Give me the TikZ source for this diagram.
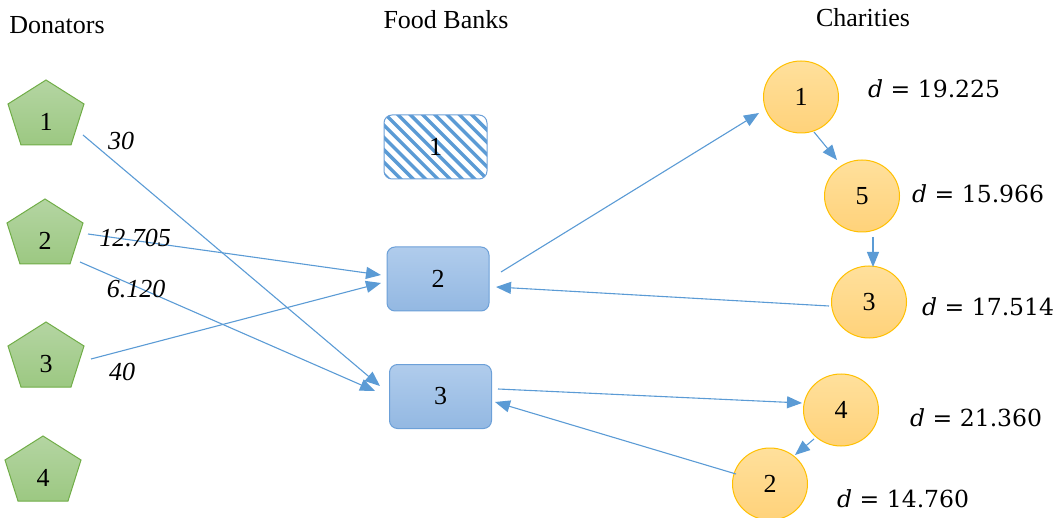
\documentclass[tikz,border=0pt]{standalone}
\usepackage{fontspec}
\setmainfont{Liberation Serif}
\newfontfamily\distfont{DejaVu Serif}
\usetikzlibrary{arrows.meta,calc,shapes.geometric}

\definecolor{flowblue}{RGB}{91,155,213}
\definecolor{boxtop}{RGB}{176,204,236}
\definecolor{boxbot}{RGB}{147,184,226}
\definecolor{boxline}{RGB}{108,160,216}
\definecolor{pentop}{RGB}{180,213,162}
\definecolor{penbot}{RGB}{156,200,130}
\definecolor{penline}{RGB}{112,173,71}
\definecolor{chartop}{RGB}{255,224,156}
\definecolor{charbot}{RGB}{255,210,122}
\definecolor{charline}{RGB}{255,192,0}

\tikzset{
  txt/.style={font=\fontsize{26}{30}\selectfont, inner sep=0pt},
  title/.style={txt, anchor=center},
  weight/.style={txt, font=\fontsize{26}{30}\selectfont\itshape},
  dist/.style={inner sep=0pt, font=\fontsize{23.5}{28}\selectfont\distfont, anchor=west},
  flow/.style={draw=flowblue, line width=1.1pt,
    -{Triangle[length=15pt,width=12pt]}},
  donorshape/.style={draw=penline, line width=1pt, top color=pentop, bottom color=penbot},
  donorlabel/.style={txt},
  bank/.style={txt, rectangle, rounded corners=8pt, draw=boxline, line width=1pt,
    minimum width=102pt, minimum height=64pt, top color=boxtop, bottom color=boxbot},
  hatchbank/.style={txt, rectangle, rounded corners=8pt, draw=boxline, line width=1pt,
    minimum width=103pt, minimum height=64pt, fill=white,
    path picture={
      \foreach \k in {-7,...,9}
        \draw[flowblue, line width=3.4pt]
          ($(path picture bounding box.north west)+(\k*12.3,-2)$) -- ++(80,80);
    }},
  charity/.style={txt, ellipse, draw=charline, line width=1pt,
    minimum width=75pt, minimum height=72pt, top color=chartop, bottom color=charbot},
}

\begin{document}
\begin{tikzpicture}[x=1pt, y=-1pt]
\useasboundingbox (0,0) rectangle (1057,518);

% column headings
\node[title] (hdon) at (57,25) {Donators};
\node[title] (hfb) at (446,20) {Food Banks};
\node[title] (hch) at (863,18) {Charities};

% donators: pentagons drawn from the top vertex
\foreach \n/\x/\y in {1/46/80, 2/45/199, 3/46/322, 4/43/436} {
  \path[donorshape] (\x,\y) -- ++(38,24) -- ++(-13,41) -- ++(-50,0) -- ++(-13,-41) -- cycle;
  \node[donorlabel] (d\n) at (\x,\y+42) {\n};
}

% food banks
\node[hatchbank] (b1) at (435.5,147) {1};
\node[bank] (b2) at (438,279) {2};
\node[bank] (b3) at (440.5,396.5) {3};

% charities
\node[charity] (c1) at (801,97) {1};
\node[charity] (c5) at (862,196) {5};
\node[charity] (c3) at (869,302) {3};
\node[charity] (c4) at (841,410) {4};
\node[charity] (c2) at (770,484) {2};

% demand labels
\node[dist] (l1) at (868,89) {\textit{d} = 19.225};
\node[dist] (l5) at (912,194) {\textit{d} = 15.966};
\node[dist] (l3) at (922,307) {\textit{d} = 17.514};
\node[dist] (l4) at (910,418) {\textit{d} = 21.360};
\node[dist] (l2) at (837,499) {\textit{d} = 14.760};

% donations
\draw[flow] ($(d1)+(37,13)$) -- ($(b3)+(-60.5,-10.5)$);
\draw[flow] ($(d2)+(43,-7)$) -- ($(b2)+(-57,-4)$);
\draw[flow] ($(d2)+(35,21)$) -- ($(b3)+(-65.5,-5.5)$);
\draw[flow] ($(d3)+(45,-5)$) -- ($(b2)+(-57,4)$);

% donation amounts
\node[weight] (w1) at (121,141) {30};
\node[weight] (w2) at (135,238) {12.705};
\node[weight] (w3) at (136,289) {6.120};
\node[weight] (w4) at (122,372) {40};

% delivery routes
\draw[flow] ($(b2)+(63,-7)$) -- ($(c1)+(-42,16)$);
\draw[flow] ($(c1)+(13,35)$) -- ($(c5)+(-25,-36)$);
\draw[flow] ($(c5)+(11,41)$) -- ($(c3)+(4,-35)$);
\draw[flow] ($(c3)+(-40,4)$) -- ($(b2)+(58,8)$);
\draw[flow] ($(b3)+(57.5,-7.5)$) -- ($(c4)+(-39,-7)$);
\draw[flow] ($(c4)+(-27,29)$) -- ($(c2)+(25,-29)$);
\draw[flow] ($(c2)+(-34,-10)$) -- ($(b3)+(54.5,5.5)$);
\end{tikzpicture}
\end{document}
